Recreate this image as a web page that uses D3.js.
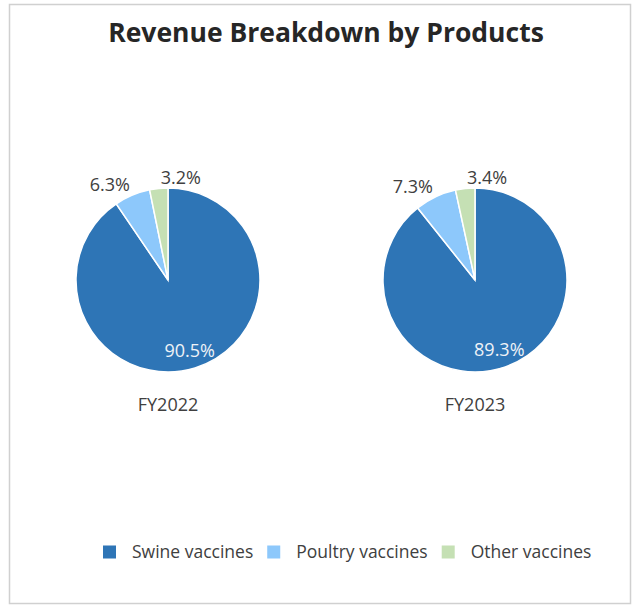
<!DOCTYPE html>
<html>
<head>
<meta charset="utf-8">
<script src="https://cdn.jsdelivr.net/npm/d3@7"></script>
<style>
  body { margin: 0; background: #fff; }
  text { font-family: "Open Sans", "Noto Sans", sans-serif; }
</style>
</head>
<body>
<svg id="chart" width="633" height="610"></svg>
<script>
// chart data
const categories = ["Swine vaccines", "Poultry vaccines", "Other vaccines"];
const years = ["FY2022", "FY2023"];
const fy2022 = [90.5, 6.3, 3.2];
const fy2023 = [89.3, 7.3, 3.4];
const colors = ["#2E75B6", "#8DC8FB", "#C5E0B4"];

const seriesList = [fy2022, fy2023];

let svg = d3.select("#chart");

// outer frame
svg.append("rect")
    .attr("x", 9.5).attr("y", 4.5)
    .attr("width", 621).attr("height", 599)
    .attr("fill", "#fff")
    .attr("stroke", "#d0d0d0")
    .attr("stroke-width", 1.5);

svg.append("text")
    .attr("x", 326).attr("y", 42)
    .attr("text-anchor", "middle")
    .style("font-size", "26.5px")
    .style("font-weight", "bold")
    .style("fill", "#262626")
    .text("Revenue Breakdown by Products");

let radius = 92;
let xPos = d3.scalePoint().domain(years).range([168, 475]);
let color = d3.scaleOrdinal().domain(categories).range(colors);

let pie = d3.pie().sort(null).value(d => d.val);
let arc = d3.arc().innerRadius(0).outerRadius(radius);
let innerLabelArc = d3.arc().innerRadius(radius * 0.8).outerRadius(radius * 0.8);
let outerLabelArc = d3.arc().innerRadius(radius * 1.12).outerRadius(radius * 1.12);

years.forEach(function (year, i) {
    let data = seriesList[i].map((v, j) => ({name: categories[j], val: v}));
    let g = svg.append("g")
        .attr("transform", "translate(" + xPos(year) + ",280)");

    let slices = pie(data);

    g.selectAll("path")
        .data(slices)
        .enter().append("path")
        .attr("d", arc)
        .attr("fill", d => color(d.data.name))
        .attr("stroke", "#fff")
        .attr("stroke-width", 1.5);

    // labels: big slice inside, small ones outside (last one pushed right of the top)
    g.selectAll(".lbl")
        .data(slices)
        .enter().append("text")
        .attr("class", "lbl")
        .each(function (d, k) {
            let big = (d.endAngle - d.startAngle) > Math.PI;
            let last = k === slices.length - 1;
            let pos = big ? innerLabelArc.centroid(d) : outerLabelArc.centroid(d);
            let anchor = big ? "middle" : (last ? "start" : "end");
            d3.select(this)
                .attr("x", pos[0] + (big ? 0 : (last ? 3 : 2))).attr("y", pos[1])
                .attr("dy", "0.35em")
                .attr("text-anchor", anchor)
                .style("fill", big ? "#eef2f7" : "#404040");
        })
        .style("font-size", "18px")
        .text(d => d.data.val.toFixed(1) + "%");

    svg.append("text")
        .attr("x", xPos(year)).attr("y", 411)
        .attr("text-anchor", "middle")
        .style("font-size", "18px")
        .style("fill", "#404040")
        .text(year);
});

// legend
let legend = svg.append("g").attr("transform", "translate(103,552)");
let lx = 0;
categories.forEach(function (c) {
    legend.append("rect")
        .attr("x", lx).attr("y", -6.5)
        .attr("width", 13).attr("height", 13)
        .attr("fill", color(c));
    let t = legend.append("text")
        .attr("x", lx + 29).attr("y", 0)
        .attr("dy", "0.33em")
        .style("font-size", "17.5px")
        .style("fill", "#404040")
        .text(c);
    lx += 29 + t.node().getComputedTextLength() + 14;
});
</script>
</body>
</html>
